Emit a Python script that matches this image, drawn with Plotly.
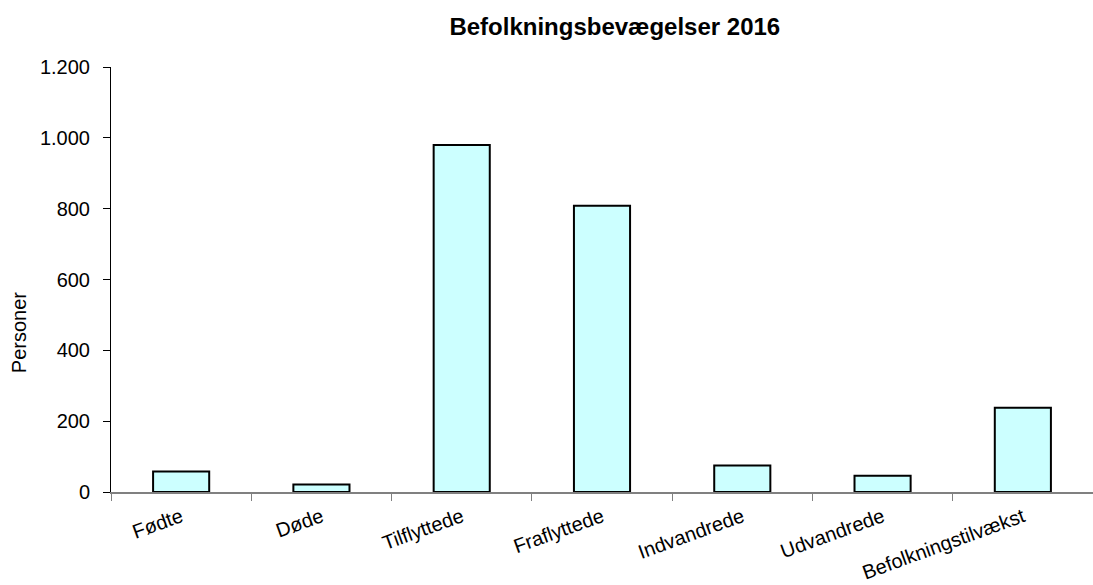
import plotly.graph_objects as go

categories = ["Fødte", "Døde", "Tilflyttede", "Fraflyttede", "Indvandrede", "Udvandrede", "Befolkningstilvækst"]
values = [58, 21, 980, 808, 75, 46, 238]
y_ticks = [0, 200, 400, 600, 800, 1000, 1200]

fig = go.Figure(go.Bar(
    x=categories, y=values,
    marker=dict(color="#CCFFFF", line=dict(color="black", width=2)),
))

fig.update_layout(
    width=1093, height=585,
    margin=dict(l=111, r=0, t=67, b=93, autoexpand=False),
    paper_bgcolor="white", plot_bgcolor="white",
    bargap=0.6,
    separators=",.",
    showlegend=False,
    font=dict(family="Liberation Sans, Arial, sans-serif", size=20, color="black"),
    title=dict(text="<b>Befolkningsbevægelser 2016</b>", x=0.5625, xanchor="center",
               y=0.954, yanchor="middle", font=dict(size=24)),
    xaxis=dict(showline=True, linecolor="#808080", linewidth=1.5,
               ticks="outside", tickson="boundaries", ticklen=7, tickcolor="#808080",
               tickangle=-20, showgrid=False, tickfont=dict(size=20),
               ticklabelstandoff=4),
    yaxis=dict(range=[0, 1200], tickvals=y_ticks, tickformat=",d",
               showline=True, linecolor="black", linewidth=1,
               ticks="outside", ticklen=7, tickcolor="black",
               showgrid=False, zeroline=False,
               tickfont=dict(size=20), ticklabelstandoff=9),
    annotations=[dict(text="Personer", textangle=-90, xref="paper", yref="paper",
                      x=-0.0937, y=0.376, xanchor="center", yanchor="middle",
                      showarrow=False, font=dict(size=20))],
)

fig.write_html("out.html", config={"displayModeBar": False},
               post_script="document.body.style.margin='0';")
